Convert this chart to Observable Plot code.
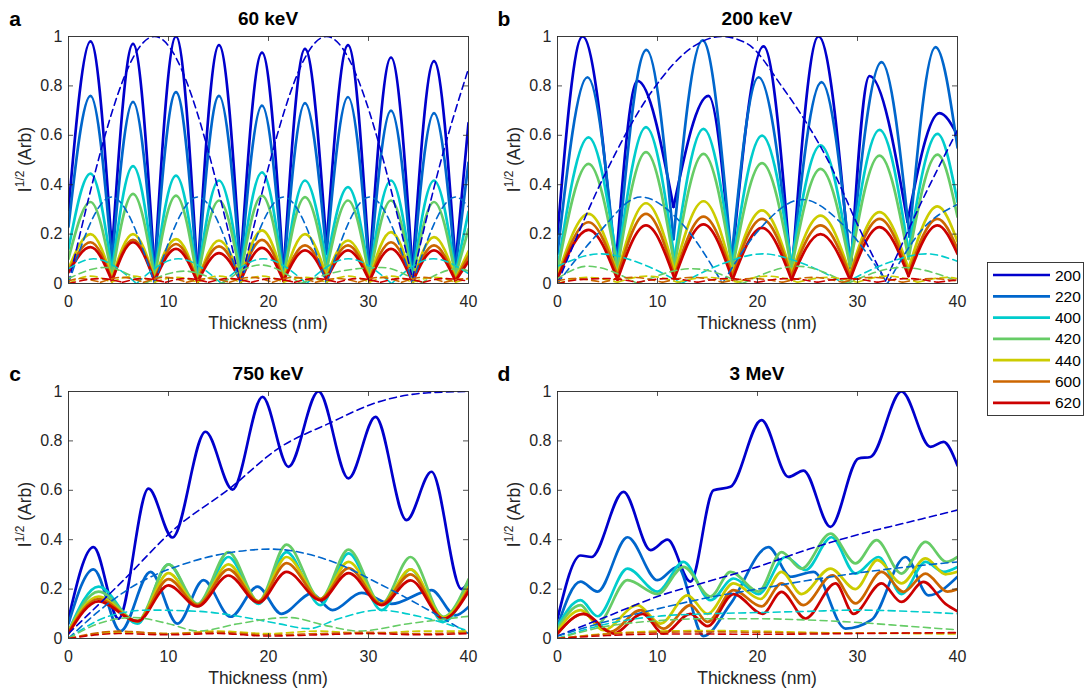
<!DOCTYPE html>
<html>
<head>
<meta charset="utf-8">
<script src="https://cdn.jsdelivr.net/npm/d3@7"></script>
<script src="https://cdn.jsdelivr.net/npm/@observablehq/plot@0.6"></script>
<style>
  html, body { margin: 0; padding: 0; background: #fff; }
  body { width: 1085px; height: 690px; overflow: hidden; position: relative; font-family: "Liberation Sans", Arial, Helvetica, sans-serif; }
  .panel { position: absolute; width: 490px; }
  .panel svg { background: transparent !important; max-width: none !important; }
  #legend { position: absolute; left: 987px; top: 262px; }
</style>
</head>
<body>
<div id="pa" class="panel" style="left:0px; top:0px;"></div>
<div id="pb" class="panel" style="left:489px; top:0px;"></div>
<div id="pc" class="panel" style="left:0px; top:355px;"></div>
<div id="pd" class="panel" style="left:489px; top:355px;"></div>
<div id="legend"></div>
<script>
// ---------- categories / colours ----------
const beams = ["200", "220", "400", "420", "440", "600", "620"];
const beamColors = ["#0000cc", "#0066cc", "#00cccc", "#66cc66", "#cccc00", "#cc6600", "#cc0000"];
const xTicks = [0, 10, 20, 30, 40];
const yTicks = [0, 0.2, 0.4, 0.6, 0.8, 1];

// ---------- panel a : 60 keV (solid, shared thickness grid) ----------
const aX   = [0, 2.2, 4.35, 6.45, 8.6, 10.75, 12.9, 15.05, 17.2, 19.35, 21.5, 23.65, 25.8, 27.95, 30.1, 32.25, 34.4, 36.55, 38.7, 40];
const a200 = [0.30, 0.98, 0.13, 0.97, 0.05, 1.0, 0.03, 0.965, 0.07, 0.935, 0.04, 0.95, 0.15, 0.965, 0.06, 0.915, 0.05, 0.90, 0.08, 0.65];
const a220 = [0.23, 0.76, 0.09, 0.735, 0.04, 0.775, 0.02, 0.76, 0.05, 0.72, 0.03, 0.73, 0.12, 0.755, 0.04, 0.70, 0.03, 0.69, 0.06, 0.49];
const a400 = [0.14, 0.445, 0.05, 0.475, 0.03, 0.437, 0.02, 0.417, 0.04, 0.45, 0.02, 0.417, 0.08, 0.39, 0.03, 0.417, 0.02, 0.417, 0.04, 0.29];
const a420 = [0.10, 0.33, 0.03, 0.363, 0.02, 0.356, 0.01, 0.336, 0.03, 0.356, 0.02, 0.35, 0.05, 0.336, 0.02, 0.336, 0.01, 0.33, 0.03, 0.22];
const a440 = [0.06, 0.20, 0.02, 0.20, 0.02, 0.18, 0.01, 0.174, 0.02, 0.215, 0.02, 0.20, 0.03, 0.174, 0.02, 0.208, 0.01, 0.188, 0.02, 0.13];
const a600 = [0.05, 0.167, 0.015, 0.177, 0.015, 0.16, 0.01, 0.15, 0.015, 0.177, 0.015, 0.154, 0.02, 0.154, 0.015, 0.167, 0.01, 0.154, 0.015, 0.11];
const a620 = [0.045, 0.147, 0.01, 0.167, 0.01, 0.14, 0.005, 0.123, 0.01, 0.144, 0.01, 0.134, 0.015, 0.134, 0.01, 0.14, 0.005, 0.134, 0.01, 0.09];
// panel a dashed
const ad200 = [[0,0],[8.6,1.0],[17.2,0.0],[25.8,1.0],[34.4,0.02],[37.2,0.49],[40,0.87]];
const ad220 = [[0,0],[4.3,0.35],[8.6,0],[12.9,0.35],[17.2,0],[21.5,0.35],[25.8,0],[30.1,0.35],[34.4,0],[38.7,0.35],[40,0.31]];
const ad400 = [[0,0.06],[2.5,0.10],[6.8,0.0],[11.0,0.10],[15.3,0.0],[19.5,0.10],[23.8,0.0],[28.0,0.10],[32.3,0.0],[36.5,0.10],[40,0.04]];
const ad420 = [[0,0.02],[3.6,0.065],[7.6,0.0],[11.6,0.05],[15.4,0.0],[19.2,0.075],[23.2,0.0],[27.2,0.05],[31.3,0.065],[35.2,0.0],[39,0.06],[40,0.05]];
const ad440 = [[0,0],[2.2,0.03],[4.3,0.005],[6.5,0.03],[8.6,0.005],[10.8,0.025],[12.9,0.005],[15,0.03],[17.2,0.005],[19.4,0.03],[21.5,0.005],[23.6,0.025],[25.8,0.005],[28,0.03],[30.1,0.005],[32.2,0.03],[34.4,0.005],[36.6,0.025],[38.7,0.005],[40,0.02]];
const ad600 = [[0,0.01],[1.1,0.02],[3.2,0.005],[5.4,0.025],[7.5,0.005],[9.7,0.025],[11.8,0.005],[14,0.02],[16.1,0.005],[18.3,0.025],[20.4,0.005],[22.6,0.025],[24.7,0.005],[26.9,0.02],[29,0.005],[31.2,0.025],[33.3,0.005],[35.5,0.025],[37.6,0.005],[39.8,0.02],[40,0.02]];
const ad620 = [[0,0],[3.2,0.02],[5.4,0.005],[7.5,0.02],[9.7,0.005],[11.8,0.02],[14,0.005],[16.1,0.02],[18.3,0.005],[20.4,0.02],[22.6,0.005],[24.7,0.02],[26.9,0.005],[29,0.02],[31.2,0.005],[33.3,0.02],[35.5,0.005],[37.6,0.02],[40,0.01]];

// ---------- panel b : 200 keV ----------
const bX   = [0, 3.1, 6.0, 8.85, 11.7, 14.6, 17.5, 20.45, 23.4, 26.3, 29.25, 32.2, 35.1, 38.0, 40];
const b400 = [0.06, 0.592, 0.08, 0.633, 0.10, 0.626, 0.08, 0.599, 0.08, 0.559, 0.09, 0.622, 0.13, 0.606, 0.33];
const b420 = [0.05, 0.484, 0.06, 0.532, 0.07, 0.525, 0.06, 0.487, 0.06, 0.464, 0.07, 0.518, 0.10, 0.522, 0.27];
const b440 = [0.03, 0.282, 0.04, 0.325, 0.05, 0.333, 0.04, 0.296, 0.04, 0.275, 0.04, 0.289, 0.06, 0.312, 0.17];
const b600 = [0.02, 0.248, 0.03, 0.282, 0.03, 0.271, 0.03, 0.262, 0.03, 0.235, 0.03, 0.262, 0.04, 0.262, 0.14];
const b620 = [0.02, 0.217, 0.015, 0.235, 0.02, 0.239, 0.015, 0.225, 0.015, 0.20, 0.015, 0.228, 0.03, 0.235, 0.12];
const b200 = [[0,0.2],[2.5,1.0],[5.8,0.06],[8.0,0.82],[11.6,0.31],[15.1,0.76],[17.4,0.07],[20.6,0.96],[23.4,0.02],[26.1,1.0],[29.3,0.04],[31.2,0.84],[35.0,0.25],[38.2,0.69],[40,0.6]];
const b220 = [[0,0.12],[3.0,0.835],[5.9,0.05],[8.9,0.946],[11.6,0.18],[14.5,0.984],[17.4,0.10],[20.1,0.835],[23.4,0.05],[26.4,0.815],[29.3,0.08],[32.4,0.896],[35.2,0.19],[37.8,0.957],[40,0.55]];
// panel b dashed
const bd200 = [[0,0],[4.6,0.43],[9.3,0.77],[13.6,0.96],[16.4,1.0],[19,0.97],[22.4,0.8],[27.4,0.47],[30.1,0.23],[32.8,0.01],[36.4,0.33],[40,0.62]];
const bd220 = [[0,0],[4,0.2],[8.3,0.35],[12.5,0.24],[16.5,0],[20,0.21],[24.5,0.34],[28.5,0.24],[33,0],[36.5,0.22],[40,0.32]];
const bd400 = [[0,0.07],[4.3,0.12],[8.4,0.08],[12.4,0],[16.5,0.08],[20.5,0.12],[24.6,0.08],[28.7,0],[32.8,0.08],[36.9,0.12],[40,0.09]];
const bd420 = [[0,0.02],[3,0.07],[8,0],[13.5,0.06],[18.5,0],[24,0.07],[29,0],[34.5,0.065],[40,0.01]];
const bd440 = [[0,0],[3,0.025],[6,0.005],[9,0.03],[12,0.005],[15,0.025],[18,0.005],[21,0.03],[24,0.005],[27,0.025],[30,0.005],[33,0.03],[36,0.005],[39,0.025],[40,0.02]];
const bd600 = [[0,0.01],[1.5,0.02],[4.5,0.005],[7.5,0.025],[10.5,0.005],[13.5,0.025],[16.5,0.005],[19.5,0.02],[22.5,0.005],[25.5,0.025],[28.5,0.005],[31.5,0.025],[34.5,0.005],[37.5,0.02],[40,0.01]];
const bd620 = [[0,0],[2,0.015],[5,0.02],[8,0.005],[11,0.02],[14,0.005],[17,0.02],[20,0.005],[23,0.02],[26,0.005],[29,0.02],[32,0.005],[35,0.02],[38,0.005],[40,0.015]];

// ---------- panel c : 750 keV ----------
const c200 = [[0,0.08],[2.5,0.37],[5.0,0.08],[8.0,0.607],[10.4,0.409],[13.7,0.837],[16.4,0.603],[19.4,0.978],[22.0,0.695],[25.0,1.0],[28.0,0.648],[30.7,0.897],[33.8,0.479],[36.3,0.675],[39.3,0.2],[40,0.23]];
const c220 = [[0,0.06],[2.5,0.28],[5.2,0.03],[8.2,0.27],[10.9,0.06],[13.5,0.236],[16.2,0.088],[18.9,0.21],[21.3,0.10],[24.3,0.182],[26.4,0.115],[29.3,0.185],[32.3,0.14],[36.3,0.196],[38.7,0.094],[40,0.128]];
const cX   = [0, 3, 6.9, 10.0, 12.9, 16.0, 19.0, 21.8, 25.2, 28.0, 31.3, 34.2, 37.5, 40];
const c400 = [0.03, 0.21, 0.06, 0.30, 0.13, 0.33, 0.14, 0.35, 0.135, 0.345, 0.115, 0.28, 0.067, 0.22];
const c420 = [0.03, 0.19, 0.07, 0.30, 0.14, 0.35, 0.15, 0.38, 0.16, 0.36, 0.14, 0.33, 0.088, 0.24];
const c440 = [0.03, 0.17, 0.07, 0.265, 0.135, 0.30, 0.15, 0.33, 0.16, 0.31, 0.14, 0.28, 0.085, 0.21];
const c600 = [0.025, 0.16, 0.07, 0.24, 0.135, 0.28, 0.15, 0.305, 0.16, 0.285, 0.14, 0.26, 0.08, 0.20];
const c620 = [0.02, 0.15, 0.07, 0.215, 0.13, 0.255, 0.145, 0.27, 0.155, 0.265, 0.135, 0.235, 0.08, 0.19];
// panel c dashed
const cd200 = [[0,0.02],[5.5,0.236],[10.5,0.44],[16.2,0.61],[21,0.77],[26,0.87],[31,0.958],[36,0.995],[40,1.0]];
const cd220 = [[0,0],[3,0.11],[6,0.2],[12.2,0.31],[16.5,0.35],[20.2,0.362],[26,0.317],[31,0.223],[36,0.115],[40,0.02]];
const cd400 = [[0,0],[4,0.09],[8,0.115],[13,0.11],[17,0.09],[21,0.06],[24,0.04],[27,0.08],[31,0.115],[35,0.09],[40,0.03]];
const cd420 = [[0,0],[3,0.06],[6.5,0.085],[10,0.06],[13,0.03],[17,0.06],[22,0.085],[26,0.05],[29,0.03],[34,0.06],[40,0.09]];
const cd440 = [[0,0],[5,0.025],[10,0.02],[15,0.03],[20,0.02],[25,0.03],[30,0.02],[35,0.03],[40,0.03]];
const cd600 = [[0,0],[5,0.03],[10,0.02],[15,0.025],[20,0.015],[25,0.02],[30,0.025],[35,0.02],[40,0.025]];
const cd620 = [[0,0],[5,0.02],[10,0.015],[15,0.02],[20,0.01],[25,0.015],[30,0.02],[35,0.015],[40,0.02]];

// ---------- panel d : 3 MeV ----------
const d200 = [[0,0.08],[2.3,0.336],[3.4,0.33],[6.6,0.594],[9.3,0.358],[11.0,0.40],[13.3,0.23],[15.6,0.60],[17.3,0.614],[20.4,0.884],[23.1,0.654],[24.6,0.68],[27.3,0.452],[30.1,0.729],[31.3,0.735],[34.4,1.0],[37.3,0.776],[38.6,0.796],[40,0.70]];
const d220 = [[0,0.05],[2.3,0.23],[4.0,0.19],[7.0,0.41],[10.0,0.236],[12.0,0.29],[14.6,0.01],[17.3,0.14],[21.1,0.37],[23.3,0.25],[25.6,0.27],[28.8,0.04],[31.4,0.075],[34.8,0.33],[37.1,0.175],[40,0.25]];
const d400 = [[0,0.05],[2.3,0.155],[4.0,0.09],[7.0,0.283],[10.0,0.19],[12.6,0.31],[15.3,0.155],[17.6,0.243],[20.1,0.18],[22.8,0.33],[24.8,0.277],[27.4,0.41],[29.8,0.263],[32.1,0.33],[34.4,0.18],[36.8,0.31],[38.6,0.27],[40,0.29]];
const d420 = [[0,0.04],[2.3,0.135],[4.0,0.06],[7.0,0.236],[10.0,0.18],[12.6,0.29],[15.3,0.17],[17.3,0.27],[20.1,0.19],[22.4,0.35],[24.4,0.283],[27.3,0.425],[29.8,0.304],[31.9,0.398],[34.4,0.263],[36.8,0.391],[38.9,0.31],[40,0.33]];
const d440 = [[0,0.03],[2.3,0.115],[4.6,0.034],[8.0,0.135],[10.3,0.06],[13.0,0.175],[15.0,0.10],[17.6,0.223],[20.3,0.16],[22.4,0.27],[24.4,0.18],[27.3,0.283],[29.8,0.20],[32.0,0.317],[34.4,0.223],[36.8,0.324],[38.8,0.26],[40,0.27]];
const d600 = [[0,0.02],[2.6,0.10],[5.3,0.027],[8.3,0.115],[10.6,0.04],[13.3,0.135],[15.0,0.067],[17.6,0.196],[20.4,0.13],[22.4,0.223],[24.6,0.135],[27.5,0.256],[29.8,0.142],[32.4,0.27],[34.6,0.189],[36.8,0.263],[39.0,0.19],[40,0.20]];
const d620 = [[0,0.02],[2.6,0.10],[5.6,0.02],[8.5,0.10],[10.6,0.02],[13.3,0.10],[15.0,0.05],[17.6,0.18],[20.5,0.10],[22.4,0.189],[24.8,0.081],[27.8,0.223],[29.6,0.10],[32.4,0.223],[34.4,0.148],[36.6,0.229],[38.8,0.14],[40,0.11]];
// panel d dashed
const dd200 = [[0,0.01],[5,0.09],[10,0.17],[15,0.23],[20,0.29],[25,0.36],[30,0.42],[35,0.47],[40,0.52]];
const dd220 = [[0,0.01],[5,0.07],[10,0.12],[15,0.165],[20,0.2],[25,0.235],[30,0.265],[35,0.29],[40,0.31]];
const dd400 = [[0,0],[5,0.06],[10,0.09],[15,0.1],[20,0.105],[25,0.11],[30,0.115],[35,0.11],[40,0.1]];
const dd420 = [[0,0],[5,0.05],[10,0.072],[15,0.08],[20,0.08],[25,0.075],[30,0.065],[35,0.05],[40,0.035]];
const dd440 = [[0,0],[5,0.02],[10,0.03],[15,0.032],[20,0.03],[25,0.025],[30,0.022],[35,0.02],[40,0.018]];
const dd600 = [[0,0],[5,0.018],[10,0.025],[15,0.027],[20,0.025],[25,0.022],[30,0.022],[35,0.022],[40,0.022]];
const dd620 = [[0,0],[5,0.012],[10,0.018],[15,0.018],[20,0.017],[25,0.018],[30,0.02],[35,0.022],[40,0.024]];

// ---------- helpers ----------
const zip = (xs, ys) => xs.map((x, i) => [x, ys[i]]);

// rows for one curve; for the |sin|-like fringes (panels a, b) the curve is broken at each
// local minimum so that the library's monotone curve leaves a sharp cusp there
function rowsOf(pairs, cusp) {
  const out = [];
  let seg = 0;
  pairs.forEach(([x, y], i) => {
    out.push({x, y, seg});
    if (cusp && i > 0 && i < pairs.length - 1 && y < pairs[i - 1][1] && y < pairs[i + 1][1]) {
      seg++;
      out.push({x, y, seg});
    }
  });
  return out;
}

const FONT = "'Liberation Sans', Arial, Helvetica, sans-serif";
const INK = "#262626";

function drawPanel(el, cfg) {
  const H = cfg.height;
  const marks = [];
  cfg.solid.forEach((pairs, i) => marks.push(Plot.line(rowsOf(pairs, cfg.cusp), {
    x: "x", y: "y", z: "seg", stroke: beamColors[i], strokeWidth: 2.7,
    curve: "monotone-x", strokeLinejoin: "round", clip: true
  })));
  cfg.dashed.forEach((pairs, i) => marks.push(Plot.line(rowsOf(pairs, cfg.cusp), {
    x: "x", y: "y", z: "seg", stroke: beamColors[i], strokeWidth: 1.6,
    strokeDasharray: "7,4.5", curve: "monotone-x", clip: true
  })));
  marks.push(
    Plot.ruleX([10, 20, 30], {y1: 0, y2: 0.02, stroke: INK, strokeWidth: 0.8}),
    Plot.ruleX([10, 20, 30], {y1: 0.98, y2: 1, stroke: INK, strokeWidth: 0.8}),
    Plot.ruleY([0.2, 0.4, 0.6, 0.8], {x1: 0, x2: 0.5, stroke: INK, strokeWidth: 0.8}),
    Plot.ruleY([0.2, 0.4, 0.6, 0.8], {x1: 39.5, x2: 40, stroke: INK, strokeWidth: 0.8}),
    Plot.frame({stroke: INK, strokeWidth: 0.9}),
    Plot.axisX({ticks: xTicks, tickSize: 0, tickPadding: 12, label: null, tickFormat: d => String(d)}),
    Plot.axisY({ticks: yTicks, tickSize: 0, tickPadding: 6, label: null, tickFormat: d => String(d)})
  );
  const svg = Plot.plot({
    width: 490, height: H,
    marginLeft: 68, marginRight: 22, marginTop: 36, marginBottom: H - 36 - 247,
    x: {domain: [0, 40]},
    y: {domain: [0, 1]},
    style: {fontFamily: FONT, fontSize: "16px", color: INK, background: "transparent", overflow: "visible"},
    marks
  });
  const s = d3.select(svg);
  s.append("text").attr("x", 268).attr("y", 25).attr("text-anchor", "middle")
    .attr("font-weight", "bold").attr("font-size", 19).attr("fill", "#000").text(cfg.title);
  s.append("text").attr("x", 15).attr("y", 26)
    .attr("font-weight", "bold").attr("font-size", 21).attr("fill", "#000").text(cfg.letter);
  s.append("text").attr("x", 268).attr("y", 329).attr("text-anchor", "middle")
    .attr("font-size", 17.5).attr("fill", INK).text("Thickness (nm)");
  const yl = s.append("text").attr("transform", "translate(31,159.5) rotate(-90)")
    .attr("text-anchor", "middle").attr("font-size", 17.5).attr("fill", INK);
  yl.append("tspan").text("I");
  yl.append("tspan").attr("font-size", 12).attr("dy", -7).text("1/2");
  yl.append("tspan").attr("dy", 7).text(" (Arb)");
  el.appendChild(svg);
}

drawPanel(document.getElementById("pa"), {
  title: "60 keV", letter: "a", height: 340, cusp: true,
  solid: [a200, a220, a400, a420, a440, a600, a620].map(ys => zip(aX, ys)),
  dashed: [ad200, ad220, ad400, ad420, ad440, ad600, ad620]
});
drawPanel(document.getElementById("pb"), {
  title: "200 keV", letter: "b", height: 340, cusp: true,
  solid: [b200, b220, zip(bX, b400), zip(bX, b420), zip(bX, b440), zip(bX, b600), zip(bX, b620)],
  dashed: [bd200, bd220, bd400, bd420, bd440, bd600, bd620]
});
drawPanel(document.getElementById("pc"), {
  title: "750 keV", letter: "c", height: 335, cusp: false,
  solid: [c200, c220, zip(cX, c400), zip(cX, c420), zip(cX, c440), zip(cX, c600), zip(cX, c620)],
  dashed: [cd200, cd220, cd400, cd420, cd440, cd600, cd620]
});
drawPanel(document.getElementById("pd"), {
  title: "3 MeV", letter: "d", height: 335, cusp: false,
  solid: [d200, d220, d400, d420, d440, d600, d620],
  dashed: [dd200, dd220, dd400, dd420, dd440, dd600, dd620]
});

// ---------- legend ----------
(function legend() {
  const W = 97, H = 154;
  const svg = d3.select("#legend").append("svg").attr("width", W).attr("height", H)
    .style("font-family", FONT);
  svg.append("rect").attr("x", 0.5).attr("y", 0.5).attr("width", W - 1).attr("height", H - 1)
    .attr("fill", "#fff").attr("stroke", INK).attr("stroke-width", 0.9);
  beams.forEach((b, i) => {
    const cy = 13 + i * 21.3;
    svg.append("line").attr("x1", 6).attr("x2", 63).attr("y1", cy).attr("y2", cy)
      .attr("stroke", beamColors[i]).attr("stroke-width", 2.7);
    svg.append("text").attr("x", 68).attr("y", cy).attr("dy", "0.36em")
      .attr("font-size", 15.5).attr("fill", "#000").text(b);
  });
})();
</script>
</body>
</html>
